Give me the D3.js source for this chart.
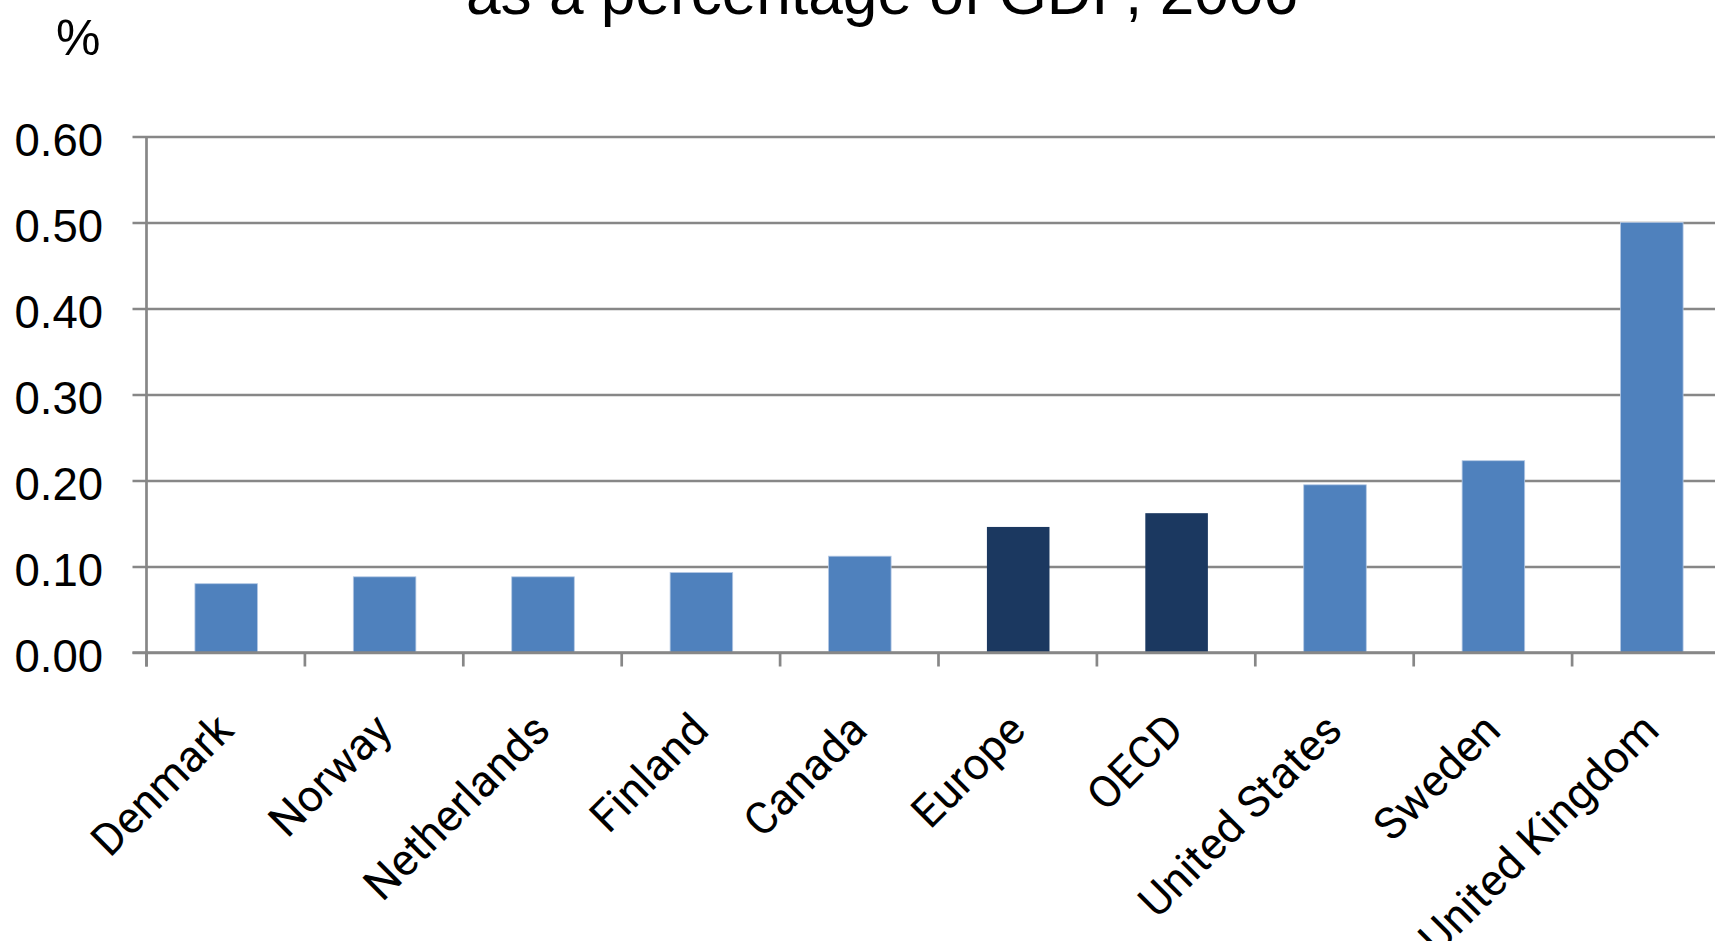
<!DOCTYPE html>
<html>
<head>
<meta charset="utf-8">
<script src="https://cdn.jsdelivr.net/npm/d3@7"></script>
<style>
  html, body { margin: 0; padding: 0; background: #ffffff; }
  svg { display: block; }
</style>
</head>
<body>
<svg id="chart" width="1715" height="941"></svg>
<script>
// Spending as a percentage of GDP, 2006
const categories = ["Denmark", "Norway", "Netherlands", "Finland", "Canada",
                    "Europe", "OECD", "United States", "Sweden", "United Kingdom"];
const values = [0.080, 0.088, 0.088, 0.093, 0.112, 0.146, 0.162, 0.195, 0.223, 0.500];
const aggregates = ["Europe", "OECD"];
const yTickValues = [0.00, 0.10, 0.20, 0.30, 0.40, 0.50, 0.60];
const titleText = "as a percentage of GDP, 2006";
const unitText = "%";

const svg = d3.select("#chart");
const W = 1715, H = 941;

const plot = { left: 146.5, top: 136.5, bottom: 652.5, band: 158.4 };
const x = d3.scaleBand()
  .domain(categories)
  .range([plot.left, plot.left + plot.band * categories.length])
  .padding(0);
const y = d3.scaleLinear().domain([0, 0.6]).range([plot.bottom, plot.top]);

const gridColor = "#878787";
const gridWidth = 2.7;
const tickLen = 14;

// horizontal gridlines (extend left past the axis as tick marks)
svg.append("g")
  .attr("transform", `translate(${plot.left},0)`)
  .call(d3.axisLeft(y).tickValues(yTickValues).tickSize(-(W - plot.left + 20)).tickFormat(""))
  .call(g => g.select(".domain").remove())
  .call(g => g.selectAll(".tick line")
    .attr("x1", -tickLen)
    .attr("stroke", gridColor)
    .attr("stroke-width", gridWidth));

// y tick labels
svg.append("g").selectAll("text")
  .data(yTickValues)
  .join("text")
  .attr("x", 103)
  .attr("y", d => y(d) + 19)
  .attr("text-anchor", "end")
  .attr("font-family", "'Liberation Sans', Arial, sans-serif")
  .attr("font-size", 45.5)
  .attr("fill", "#000")
  .text(d3.format(".2f"));

// bars
const barW = x.bandwidth() * 0.395;
svg.append("g").selectAll("rect")
  .data(categories.map((c, i) => ({ c, v: values[i] })))
  .join("rect")
  .attr("x", d => x(d.c) + x.bandwidth() / 2 - barW / 2 + 0.5)
  .attr("y", d => y(d.v))
  .attr("width", barW)
  .attr("height", d => y(0) - y(d.v))
  .attr("fill", d => aggregates.includes(d.c) ? "#1b3860" : "#4f81bd")
  .attr("stroke", d => aggregates.includes(d.c) ? "none" : "#b3c8e4")
  .attr("stroke-width", 0.8);

// x axis baseline with category boundary ticks
svg.append("line")
  .attr("x1", plot.left - tickLen).attr("x2", W + 10)
  .attr("y1", plot.bottom).attr("y2", plot.bottom)
  .attr("stroke", gridColor).attr("stroke-width", gridWidth);

const boundaries = categories.map(c => x(c));
svg.append("g").selectAll("line")
  .data(boundaries)
  .join("line")
  .attr("x1", d => d).attr("x2", d => d)
  .attr("y1", plot.bottom).attr("y2", plot.bottom + tickLen)
  .attr("stroke", gridColor).attr("stroke-width", gridWidth);

// y axis line
svg.append("line")
  .attr("x1", plot.left).attr("x2", plot.left)
  .attr("y1", plot.top).attr("y2", plot.bottom + tickLen)
  .attr("stroke", gridColor).attr("stroke-width", gridWidth);

// rotated category labels
svg.append("g").selectAll("text")
  .data(categories)
  .join("text")
  .attr("transform", d => `translate(${x(d) + x.bandwidth() / 2 + 10},${plot.bottom + 80}) rotate(-45)`)
  .attr("text-anchor", "end")
  .attr("font-family", "Roboto, 'Open Sans', sans-serif")
  .attr("font-size", 44.5)
  .attr("fill", "#000")
  .text(d => d);

// unit label
svg.append("text")
  .attr("x", 56).attr("y", 55)
  .attr("font-family", "'Liberation Sans', Arial, sans-serif")
  .attr("font-size", 50)
  .attr("fill", "#000")
  .text(unitText);

// title (second line)
svg.append("text")
  .attr("x", 466).attr("y", 14)
  .attr("textLength", 832)
  .attr("lengthAdjust", "spacingAndGlyphs")
  .attr("font-family", "'Liberation Sans', Arial, sans-serif")
  .attr("font-size", 63)
  .attr("fill", "#000")
  .text(titleText);
</script>
</body>
</html>
